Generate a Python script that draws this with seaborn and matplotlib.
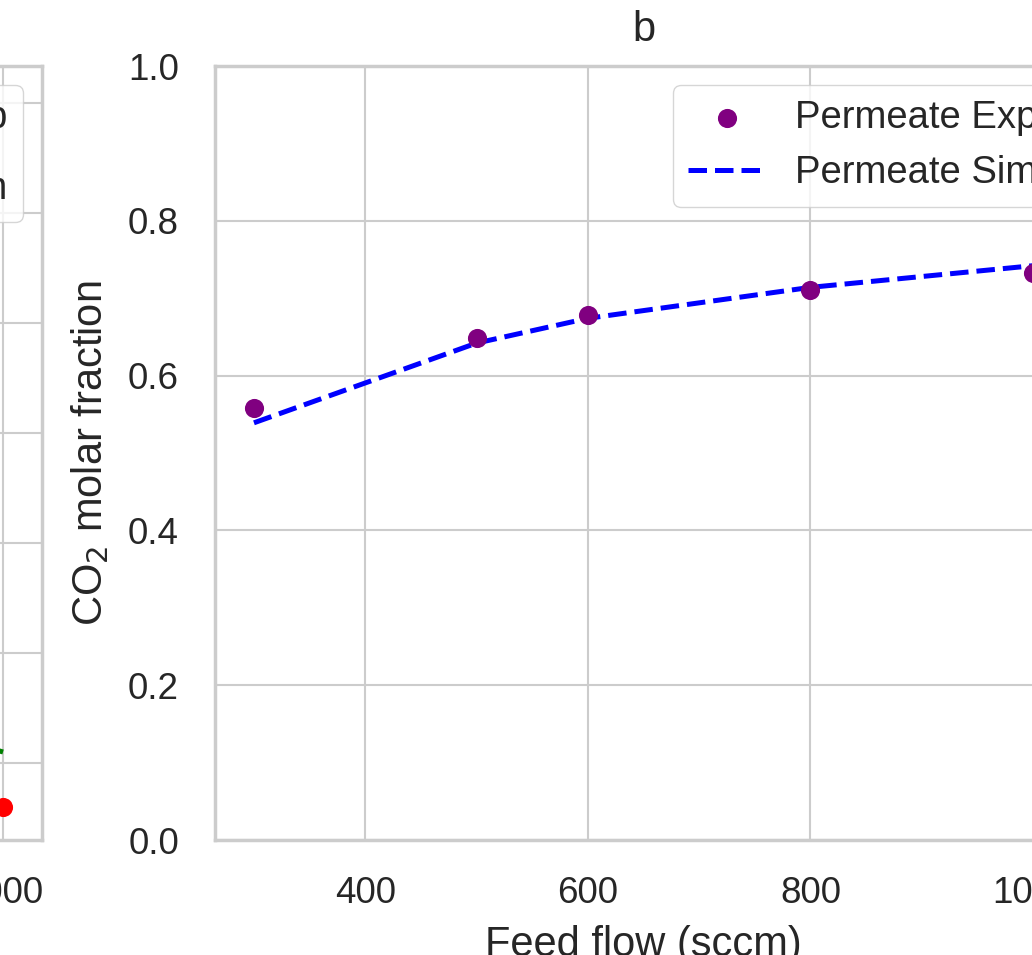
import numpy as np
import pandas as pd
import matplotlib
matplotlib.use("Agg")
import matplotlib.pyplot as plt
import seaborn as sns

# feed flow (sccm)
feed_flow = [300, 500, 600, 800, 1000]

# panel a - retentate (only the right edge is visible)
ret_exp = [0.70, 0.38, 0.25, 0.12, 0.06]
ret_sim = [0.66, 0.40, 0.29, 0.17, 0.11]

# panel b - permeate
perm_exp = [0.558, 0.649, 0.678, 0.711, 0.733]
perm_sim = [0.539, 0.642, 0.674, 0.714, 0.742]

FS = 26.5   # tick labels
LS = 30     # axis labels / titles

sns.set_theme(style="whitegrid")
plt.rcParams['font.family'] = ['Liberation Sans', 'DejaVu Sans']
plt.rcParams['axes.edgecolor'] = '#cccccc'
plt.rcParams['axes.linewidth'] = 2.5
plt.rcParams['grid.color'] = '#cccccc'
plt.rcParams['grid.linewidth'] = 1.5
plt.rcParams['text.color'] = '#262626'

W, H = 1032, 955
fig = plt.figure(figsize=(W / 100, H / 100), dpi=100)

ax_w = 857
bottom = (H - 840) / H
height = 774 / H
ax_a = fig.add_axes([(42 - ax_w) / W, bottom, ax_w / W, height])
ax_b = fig.add_axes([215 / W, bottom, ax_w / W, height])

df_a = pd.DataFrame({'flow': feed_flow, 'exp': ret_exp, 'sim': ret_sim})
df_b = pd.DataFrame({'flow': feed_flow, 'exp': perm_exp, 'sim': perm_sim})

# panel a
sns.scatterplot(data=df_a, x='flow', y='exp', color='red', s=190, linewidth=0,
                ax=ax_a, label='Retentate Exp', zorder=3)
sns.lineplot(data=df_a, x='flow', y='sim', color='green', linestyle='--', linewidth=3.6,
             ax=ax_a, label='Retentate Sim')
ax_a.set_ylim(0.03, 0.7336)
ax_a.set_ylabel('CO$_2$ molar fraction', fontsize=LS)
ax_a.set_xlabel('Feed flow (sccm)', labelpad=10, fontsize=LS)
ax_a.set_title('a', pad=18, fontsize=LS)
ax_a.tick_params(length=0, pad=26, labelsize=FS)
h, l = ax_a.get_legend_handles_labels()
ax_a.legend(h, l, loc='upper right', fontsize=27.5, labelspacing=0.9)

# panel b
sns.scatterplot(data=df_b, x='flow', y='exp', color='purple', s=190, linewidth=0,
                ax=ax_b, label='Permeate Exp', zorder=3)
sns.lineplot(data=df_b, x='flow', y='sim', color='blue', linestyle='--', linewidth=3.6,
             ax=ax_b, label='Permeate Sim')
ax_b.set_ylim(0, 1.0)
ax_b.set_yticks([0.0, 0.2, 0.4, 0.6, 0.8, 1.0])
ax_b.set_xticks([400, 600, 800, 1000])
ax_b.set_ylabel('CO$_2$ molar fraction', labelpad=12, fontsize=LS)
ax_b.set_xlabel('Feed flow (sccm)', labelpad=10, fontsize=LS)
ax_b.set_title('b', pad=18, fontsize=LS)
ax_b.tick_params(length=0, pad=26, labelsize=FS)
h, l = ax_b.get_legend_handles_labels()
ax_b.legend(h, l, loc='upper right', fontsize=27.5)

fig.savefig('out.png', dpi=100)
